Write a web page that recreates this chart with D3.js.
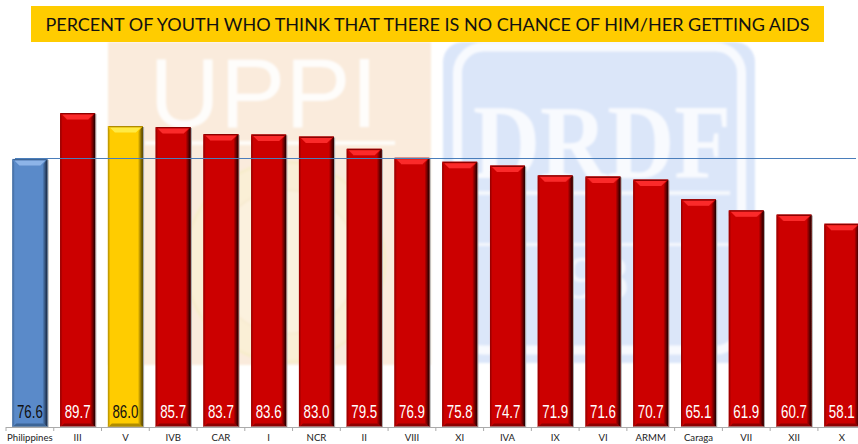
<!DOCTYPE html>
<html>
<head>
<meta charset="utf-8">
<style>
html,body{margin:0;padding:0;background:#fff;overflow:hidden}
svg{display:block}
</style>
<script src="https://cdn.jsdelivr.net/npm/d3@7/dist/d3.min.js"></script>
</head>
<body>
<div id="chart"></div>
<script>
const titleText = "PERCENT OF YOUTH WHO THINK THAT THERE IS NO CHANCE OF HIM/HER GETTING AIDS";
const categories = ["Philippines","III","V","IVB","CAR","I","NCR","II","VIII","XI","IVA","IX","VI","ARMM","Caraga","VII","XII","X"];
const values = [76.6,89.7,86.0,85.7,83.7,83.6,83.0,79.5,76.9,75.8,74.7,71.9,71.6,70.7,65.1,61.9,60.7,58.1];
const referenceValue = 76.6;

const W = 858, H = 444;
const svg = d3.select("#chart").append("svg").attr("width", W).attr("height", H);
const defs = svg.append("defs");

const x = d3.scaleBand().domain(categories).range([6, 6 + 18 * 47.76]).paddingInner(0.267).paddingOuter(0.1335);
const y = d3.scaleLinear().domain([0, 100]).range([427, 77]);

const palettes = {
  blue:   {base:"#5a8ac9", light:"#8db4e8", dark:"#14243a", mid:"#3e6596", edge:"#7d93ad", text:"#111111"},
  yellow: {base:"#ffcc00", light:"#ffea45", dark:"#453700", mid:"#b08c00", edge:"#b9a24a", text:"#111111"},
  red:    {base:"#cc0605", light:"#fb2a2a", dark:"#1c0000", mid:"#8e0303", edge:"#b08a8a", text:"#ffffff"}
};
const paletteOf = (c) => c === "Philippines" ? "blue" : c === "V" ? "yellow" : "red";

Object.entries(palettes).forEach(([k, p]) => {
  const r = defs.append("linearGradient").attr("id", "right-" + k);
  r.append("stop").attr("offset", 0).attr("stop-color", p.base);
  r.append("stop").attr("offset", 1).attr("stop-color", p.dark);
  const l = defs.append("linearGradient").attr("id", "left-" + k);
  l.append("stop").attr("offset", 0).attr("stop-color", p.mid);
  l.append("stop").attr("offset", 1).attr("stop-color", p.base);
});
defs.append("filter").attr("id", "soft").append("feGaussianBlur").attr("stdDeviation", 0.8);
defs.append("filter").attr("id", "softer").append("feGaussianBlur").attr("stdDeviation", 0.35);

// faint background logos
const wm = svg.append("g").attr("filter", "url(#soft)");
wm.append("rect").attr("x", 108).attr("y", 42).attr("width", 323).attr("height", 323).attr("fill", "#faebdc");
wm.append("text").attr("x", 263.5).attr("y", 127).attr("text-anchor", "middle")
  .attr("font-family", "Liberation Sans").attr("font-size", 98)
  .attr("fill", "#fefdfb").text("UPPI");
wm.append("rect").attr("x", 145).attr("y", 141).attr("width", 250).attr("height", 4).attr("fill", "#fefcf8");
wm.append("circle").attr("cx", 285).attr("cy", 262).attr("r", 100).attr("fill", "#faefd6").attr("stroke", "#f7eccb").attr("stroke-width", 3);
wm.append("circle").attr("cx", 285).attr("cy", 262).attr("r", 72).attr("fill", "#fbf1de").attr("stroke", "#f7ead0").attr("stroke-width", 2);

wm.append("rect").attr("x", 443).attr("y", 42).attr("width", 312).attr("height", 321).attr("rx", 20).attr("fill", "#dbe6f9");
wm.append("rect").attr("x", 457.5).attr("y", 47).attr("width", 284).attr("height", 303).attr("rx", 26)
  .attr("fill", "none").attr("stroke", "#f8fafe").attr("stroke-width", 9);
wm.append("text").attr("transform", "translate(602,178) scale(0.885,1)").attr("text-anchor", "middle")
  .attr("font-family", "Liberation Serif").attr("font-weight", 700).attr("font-size", 105)
  .attr("fill", "#f8fafe").text("DRDF");
wm.append("rect").attr("x", 472).attr("y", 191).attr("width", 258).attr("height", 4).attr("fill", "#f4f7fd");
wm.append("rect").attr("x", 472).attr("y", 243).attr("width", 258).attr("height", 3).attr("fill", "#f4f7fd");
wm.append("text").attr("x", 598).attr("y", 298).attr("text-anchor", "middle")
  .attr("font-family", "Liberation Serif").attr("font-size", 62).attr("fill", "#f4f7fd").text("98");

// title banner
svg.append("rect").attr("x", 31).attr("y", 6).attr("width", 793).attr("height", 36).attr("fill", "#ffcc00");
const title = svg.append("text").attr("x", 427.5).attr("y", 31).attr("text-anchor", "middle")
  .attr("font-family", "Lato, 'Open Sans', sans-serif").attr("font-size", 20)
  .attr("fill", "#111").text(titleText);
title.attr("font-size", 20 * 765 / title.node().getComputedTextLength());

// bars
const data = categories.map((c, i) => ({c, v: values[i], k: paletteOf(c)}));
const bars = svg.append("g").selectAll("g").data(data).join("g").attr("filter", "url(#softer)");
const bev = 5;
const poly = (pts) => "M" + pts.map(p => p.join(",")).join("L") + "Z";
const X0 = d => x(d.c), X1 = d => x(d.c) + x.bandwidth(), Y0 = d => y(d.v), Y1 = () => y(0);

bars.append("rect").attr("x", d => X1(d)).attr("y", d => Y0(d) + 1).attr("width", 1.2)
  .attr("height", d => Y1() - Y0(d) - 1).attr("fill", "#a9a9a9");
bars.append("rect").attr("x", X0).attr("y", Y0).attr("width", x.bandwidth())
  .attr("height", d => Y1() - Y0(d)).attr("fill", d => palettes[d.k].base);
bars.append("path").attr("fill", d => `url(#left-${d.k})`)
  .attr("d", d => poly([[X0(d), Y0(d)], [X0(d) + 2.5, Y0(d) + bev], [X0(d) + 2.5, Y1() - 3], [X0(d), Y1()]]));
bars.append("path").attr("fill", d => `url(#right-${d.k})`)
  .attr("d", d => poly([[X1(d), Y0(d)], [X1(d) - bev, Y0(d) + bev + 1], [X1(d) - bev, Y1() - 4], [X1(d), Y1()]]));
bars.append("path").attr("fill", d => palettes[d.k].mid)
  .attr("d", d => poly([[X0(d), Y0(d)], [X1(d), Y0(d)], [X1(d) - 2, Y0(d) + 1.5], [X0(d) + 2, Y0(d) + 1.5]]));
bars.append("path").attr("fill", d => palettes[d.k].light)
  .attr("d", d => poly([[X0(d) + 2, Y0(d) + 1.5], [X1(d) - 2, Y0(d) + 1.5], [X1(d) - 7, Y0(d) + 6.5], [X0(d) + 7, Y0(d) + 6.5]]));
bars.append("path").attr("fill", d => palettes[d.k].mid)
  .attr("d", d => poly([[X0(d), Y1()], [X1(d), Y1()], [X1(d) - 4, Y1() - 3.5], [X0(d) + 4, Y1() - 3.5]]));
bars.append("rect").attr("x", X0).attr("y", Y1() - 0.8).attr("width", x.bandwidth()).attr("height", 1)
  .attr("fill", d => palettes[d.k].edge);

// value labels
svg.append("g").selectAll("text").data(data).join("text")
  .attr("transform", d => `translate(${X0(d) + x.bandwidth() / 2},418) scale(0.74,1)`)
  .attr("text-anchor", "middle")
  .attr("font-family", "'Liberation Sans', sans-serif").attr("font-size", 18)
  .attr("fill", d => palettes[d.k].text).text(d => d.v.toFixed(1));

// axis
const axisG = svg.append("g").attr("transform", `translate(0,${y(0)})`);
axisG.call(d3.axisBottom(x).tickSize(0).tickPadding(7.5));
axisG.select(".domain").attr("stroke", "#aaaaaa").attr("d", `M6,0.5H${W}`);
axisG.selectAll("text").attr("font-family", "Lato, 'Open Sans', sans-serif").attr("font-size", 9.6).attr("fill", "#222");
axisG.selectAll(".boundary").data(d3.range(categories.length))
  .join("line").attr("class", "boundary")
  .attr("x1", i => x(categories[i]) - x.step() * x.paddingInner() / 2)
  .attr("x2", i => x(categories[i]) - x.step() * x.paddingInner() / 2)
  .attr("y1", 0).attr("y2", 4).attr("stroke", "#aaaaaa");

// reference line at the national value
const refY = Math.floor(y(referenceValue)) + 0.5;
svg.append("line").attr("x1", 15).attr("x2", 856).attr("y1", refY).attr("y2", refY)
  .attr("stroke", "#4a7ebb").attr("stroke-width", 1);
</script>
</body>
</html>
